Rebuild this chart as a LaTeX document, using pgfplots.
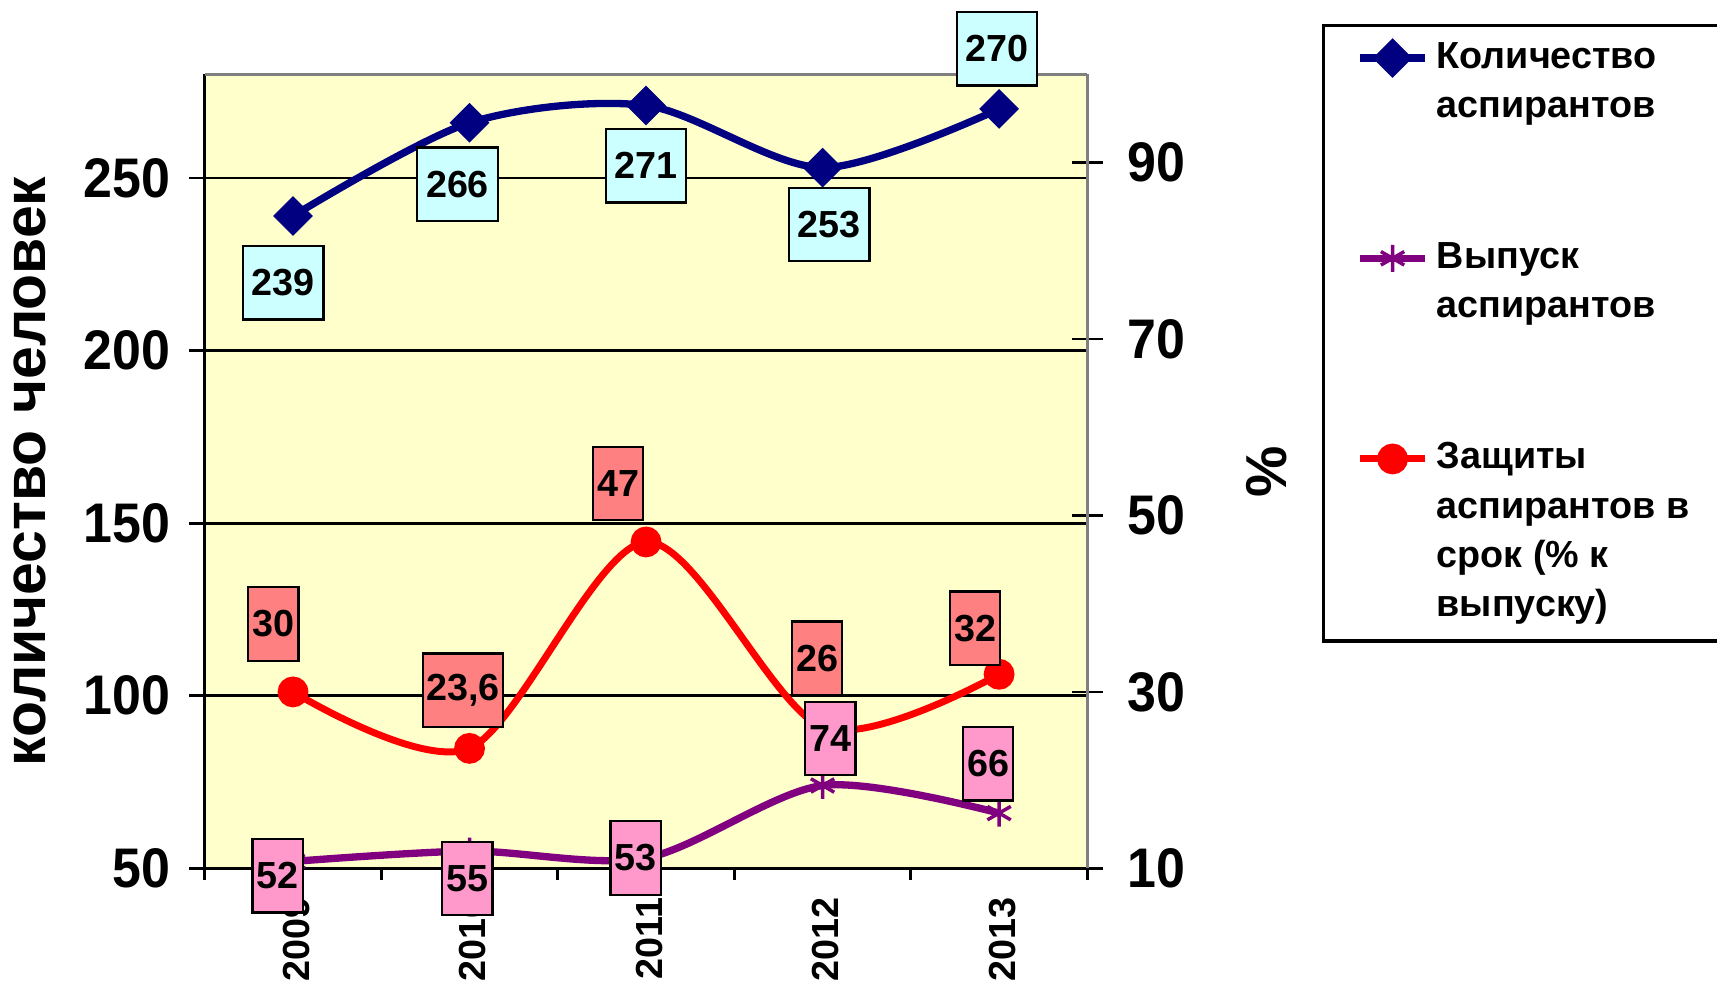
\documentclass[border=0pt]{standalone}
\usepackage{pgfplots}
\pgfplotsset{compat=1.18}
\usepackage{pgfplotstable}
\usepackage{fontspec}
\setmainfont{Liberation Sans}
\newfontfamily\condfont{Liberation Sans}[FakeStretch=0.93]
\definecolor{bgyellow}{RGB}{255,255,204}
\definecolor{navyline}{RGB}{0,0,128}
\definecolor{purpline}{RGB}{128,0,128}
\definecolor{boxcyan}{RGB}{204,255,255}
\definecolor{boxsalmon}{RGB}{255,128,128}
\definecolor{boxpink}{RGB}{255,153,204}

\pgfplotstableread{
x y lab dx dy
1 239 239 -0.09 -0.61
2 266 266 -0.11 -0.56
3 271 271 0.00 -0.55
4 253 253 0.06 -0.52
5 270 270 -0.02 0.55
}\tblcount
\pgfplotstableread{
x y lab dx dy
1 52 52 -0.14 -0.13
2 55 55 -0.02 -0.25
3 53 53 -0.095 0.00
4 74 74 0.07 0.43
5 66 66 -0.10 0.45
}\tblgrad
\pgfplotstableread{
x y lab dx dy
1 30 30 -0.18 0.62
2 23.6 23,6 -0.06 0.53
3 47 47 -0.255 0.535
4 26 26 -0.05 0.63
5 32 32 -0.22 0.42
}\tbldef

\newcommand\legtxt[1]{\raisebox{-2.6pt}{\parbox[t]{2.75cm}{\raggedright #1}}}

\pgfplotsset{
  labelbox/.style={
    draw=none, mark=none, forget plot, on layer=axis foreground,
    point meta=explicit symbolic, nodes near coords,
    visualization depends on={\thisrow{dx} \as \lbldx},
    visualization depends on={\thisrow{dy} \as \lbldy},
    every node near coord/.style={anchor=center, xshift=\lbldx cm, yshift=\lbldy cm,
      draw=black, line width=0.6pt, text=black, inner xsep=0.03cm, inner ysep=0pt,
      minimum height=0.67cm, font=\bfseries\fontsize{9.8}{11}\selectfont, #1}
  },
  common/.style={
    set layers, clip=false,
    at={(1.87cm,1.03cm)}, anchor=south west,
    scale only axis, width=8.06cm, height=7.25cm,
    xmin=0.5, xmax=5.5,
    /pgf/number format/assume math mode=true,
  }
}

\begin{document}
\begin{tikzpicture}

\begin{axis}[common,
  ymin=50, ymax=280,
  axis x line*=bottom, axis y line*=left,
  axis line style={black, line width=0.7pt},
  axis background/.style={fill=bgyellow},
  ytick={50,100,150,200,250},
  ymajorgrids, grid style={black, line width=0.7pt},
  tick align=outside,
  major tick length=0.14cm,
  y tick style={black, line width=0.7pt},
  yticklabel style={font=\condfont\bfseries\fontsize{14.5}{16}\selectfont, xshift=-0.05cm},
  xtick={1,2,3,4,5}, xticklabels={2009,2010,2011,2012,2013},
  major x tick style={draw=none},
  minor xtick={0.5,1.5,2.5,3.5,4.5,5.5},
  minor x tick style={black, line width=0.7pt}, minor tick length=0.11cm,
  xticklabel style={rotate=90, anchor=east, yshift=-0.03cm, font=\bfseries\fontsize{9.8}{11}\selectfont},
  ylabel={количество человек},
  ylabel style={font=\bfseries\fontsize{15.3}{18}\selectfont, at={(axis description cs:-0.1985,0.5)}, anchor=center},
]
\addplot[navyline, line width=1.9pt, smooth, mark=square*, mark size=2.7pt, mark options={rotate=45, solid}]
  table[x=x, y=y] {\tblcount};
\addplot[purpline, line width=1.9pt, smooth, mark=asterisk, mark size=3.5pt, mark options={line width=0.9pt, solid}]
  table[x=x, y=y] {\tblgrad};
\addplot[labelbox={fill=boxcyan, minimum width=0.735cm}] table[x=x, y=y, meta=lab] {\tblcount};
\end{axis}

\begin{axis}[common,
  ymin=10, ymax=100,
  axis x line*=top, axis y line*=right,
  x axis line style={gray, line width=0.7pt},
  y axis line style={gray, line width=0.7pt},
  xtick=\empty,
  ytick={10,30,50,70,90},
  tick align=center, major tick length=0.28cm,
  y tick style={black, line width=0.7pt},
  yticklabel style={font=\condfont\bfseries\fontsize{14.5}{16}\selectfont, xshift=0.1cm},
  ylabel={\%},
  ylabel style={font=\bfseries\fontsize{15}{18}\selectfont, at={(axis description cs:1.2035,0.5)}, anchor=center, rotate=0},
  legend style={at={(axis description cs:1.2655,1.0634)}, anchor=north west,
    draw=black, line width=0.8pt, fill=white,
    font=\bfseries\fontsize{9.8}{12.8}\selectfont,
    nodes={text depth=},
    cells={anchor=west}, row sep=0.93cm, inner xsep=0.3cm, inner ysep=0.08cm},
]
\addlegendimage{navyline, line width=1.9pt, mark=square*, mark size=2.7pt, mark options={rotate=45, solid}}
\addlegendentry[anchor=base west]{\legtxt{Количество\\аспирантов}}
\addlegendimage{purpline, line width=1.9pt, mark=asterisk, mark size=3.5pt, mark options={line width=0.9pt, solid}}
\addlegendentry[anchor=base west]{\legtxt{Выпуск\\аспирантов}}
\addplot[red, line width=1.8pt, smooth, mark=*, mark size=3.1pt, mark options={solid}]
  table[x=x, y=y] {\tbldef};
\addlegendentry[anchor=base west]{\legtxt{Защиты\\аспирантов в\\срок (\% к\\выпуску)}}
\addplot[labelbox={fill=boxsalmon, minimum width=0.46cm}] table[x=x, y=y, meta=lab] {\tbldef};
% purple labels, placed on the left axis scale (50..280 mapped onto 10..100)
\addplot[labelbox={fill=boxpink, minimum width=0.46cm}]
  table[x=x, y expr={10+(\thisrow{y}-50)*90/230}, meta=lab] {\tblgrad};
\end{axis}
\pgfresetboundingbox
\path[use as bounding box] (0,0) rectangle (15.68,8.96);
\end{tikzpicture}
\end{document}
